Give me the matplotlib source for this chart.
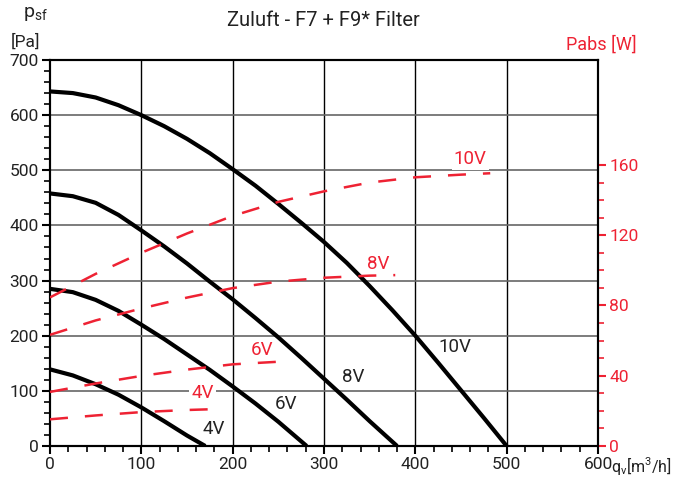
import matplotlib.pyplot as plt
import numpy as np
from matplotlib.ticker import MultipleLocator

plt.rcParams['font.family'] = ['Roboto', 'DejaVu Sans']

# pressure curves (flow m3/h, pressure Pa)
q_10v = [0, 25, 50, 75, 100, 125, 150, 175, 200, 225, 250, 275, 300, 325, 350, 375, 400, 425, 450, 475, 500]
p_10v = [643, 640, 632, 618, 600, 580, 557, 531, 502, 472, 439, 405, 370, 332, 290, 246, 200, 151, 101, 51, 0]
q_8v = [0, 25, 50, 75, 100, 125, 150, 175, 200, 225, 250, 275, 300, 325, 350, 380]
p_8v = [458, 453, 441, 419, 391, 362, 331, 298, 266, 232, 197, 160, 122, 84, 45, 0]
q_6v = [0, 25, 50, 75, 100, 125, 150, 175, 200, 225, 250, 281]
p_6v = [285, 279, 265, 245, 220, 194, 166, 138, 108, 77, 44, 0]
q_4v = [0, 25, 50, 75, 100, 125, 150, 170]
p_4v = [139, 128, 112, 93, 70, 45, 19, 0]

# power curves (flow m3/h, power W)
qw_10v = [0, 50, 100, 150, 200, 250, 300, 350, 400, 450, 482]
w_10v = [84.6, 98, 110, 121, 131, 139, 145, 150, 153, 154.5, 155.3]
qw_8v = [0, 50, 100, 150, 200, 250, 300, 350, 378]
w_8v = [63.3, 71.5, 78.3, 84.5, 89.9, 93.6, 95.8, 97, 97.3]
qw_6v = [0, 50, 100, 150, 200, 261]
w_6v = [30.8, 35.6, 39.9, 43.5, 46.5, 48.3]
qw_4v = [0, 50, 100, 150, 175]
w_4v = [15.2, 17.4, 19.3, 20.5, 20.9]

fig = plt.figure(figsize=(6.76, 4.80), dpi=100)
ax = fig.add_axes([50/676, 34/480, 548/676, 386/480])
ax2 = ax.twinx()

ax.set_xlim(0, 600)
ax.set_ylim(0, 700)
ax2.set_ylim(0, 700 * 40 / 127.4)

ax.xaxis.set_major_locator(MultipleLocator(100))
ax.xaxis.set_minor_locator(MultipleLocator(20))
ax.yaxis.set_major_locator(MultipleLocator(100))
ax.yaxis.set_minor_locator(MultipleLocator(20))
ax2.set_yticks([0, 40, 80, 120, 160])
ax2.set_yticks(np.arange(0, 161, 10), minor=True)

for x in range(100, 600, 100):
    ax.axvline(x, color='black', lw=1, zorder=1)
for y in range(100, 700, 100):
    ax.axhline(y, color='#666666', lw=1.2, zorder=1)

for s in ax.spines.values():
    s.set_linewidth(1.5)
for s in ax2.spines.values():
    s.set_linewidth(1.5)

red = '#ee2233'
ax.tick_params(which='major', length=6, width=1.5, labelsize=12.5, colors='black', pad=2)
ax.tick_params(which='minor', length=4, width=1.2)
ax.tick_params(axis='both', labelcolor='#222222')
ax2.tick_params(which='major', length=6, width=1.5, labelsize=12.5, colors=red, pad=2)
ax2.tick_params(which='minor', length=4, width=1.2, colors=red)

for q, p in [(q_10v, p_10v), (q_8v, p_8v), (q_6v, p_6v), (q_4v, p_4v)]:
    ax.plot(q, p, color='black', lw=3, zorder=3, solid_capstyle='butt')

for q, w in [(qw_10v, w_10v), (qw_8v, w_8v), (qw_6v, w_6v), (qw_4v, w_4v)]:
    ax2.plot(q, w, color=red, lw=1.8, dashes=(7.2, 6.8), zorder=3)

for x, y, t in [(443, 180, '10V'), (332, 125, '8V'), (259, 76, '6V'), (179, 30, '4V')]:
    ax.text(x, y, t, fontsize=13.5, color='#222222', ha='center', va='center', zorder=4)

bbox = dict(facecolor='white', edgecolor='none', pad=1.5)
for x, y, t in [(460, 521, '10V'), (359, 330, '8V'), (232, 174, '6V'), (167, 96, '4V')]:
    ax.text(x, y, t, fontsize=13.5, color=red, ha='center', va='center', zorder=4, bbox=bbox)

fig.text(323/676, 1 - 20/480, 'Zuluft - F7 + F9* Filter', fontsize=14.5, ha='center', va='center', color='#222222')
fig.text(35/676, 1 - 14/480, r'p$_{\mathregular{sf}}$', fontsize=14, ha='center', va='center', color='#222222')
fig.text(25/676, 1 - 42/480, '[Pa]', fontsize=12.5, ha='center', va='center', color='#222222')
fig.text(601/676, 1 - 45/480, 'Pabs [W]', fontsize=13, ha='center', va='center', color=red)
fig.text(611/676, 1 - 466/480, r'q$_{\mathregular{v}}$[m$^{\mathregular{3}}$/h]', fontsize=11.5, ha='left', va='center', color='#222222')

fig.savefig('out.png', dpi=100)
